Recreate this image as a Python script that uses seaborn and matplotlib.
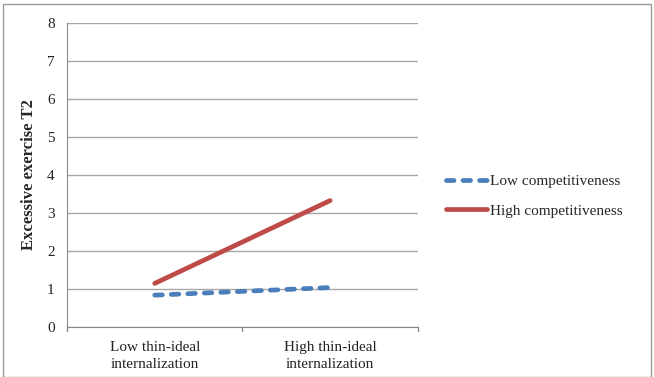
import pandas as pd
import matplotlib.pyplot as plt
import seaborn as sns
from matplotlib.lines import Line2D

# values
conditions = ['Low thin-ideal\ninternalization', 'High thin-ideal\ninternalization']
low_comp = [0.83, 1.03]
high_comp = [1.14, 3.32]
groups = ['Low competitiveness', 'High competitiveness']

df = pd.DataFrame({
    'x': [0, 1, 0, 1],
    'y': low_comp + high_comp,
    'group': [groups[0]] * 2 + [groups[1]] * 2,
})

sns.set_style('white')
plt.rcParams['font.family'] = ['Liberation Serif', 'DejaVu Serif']

fig = plt.figure(figsize=(6.54, 3.77), dpi=100)
ax = fig.add_axes([0.1025, 0.1334, 0.5365, 0.8064])

palette = {groups[0]: '#4a7ebb', groups[1]: '#be4b48'}
dash = (1.6, 1.9)
sns.lineplot(data=df, x='x', y='y', hue='group', style='group',
             palette=palette, dashes={groups[0]: dash, groups[1]: ''},
             linewidth=3.4, ax=ax, legend=False, solid_capstyle='round',
             dash_capstyle='round')

ax.set_xlim(-0.5, 1.5)
ax.set_ylim(0, 8)
ax.set_yticks(range(0, 9))
ax.set_xticks([0, 1])
ax.set_xticklabels(conditions, fontsize=11, color='#222222', linespacing=1.4)
ax.tick_params(axis='x', length=0, pad=10)
ax.tick_params(axis='y', labelsize=11, length=4, color='#888888', colors='#222222', pad=5)
for xt in [-0.5, 0.5, 1.5]:
    ax.plot([xt, xt], [0, -0.12], color='#888888', lw=1, clip_on=False)
ax.yaxis.grid(True, color='#a6a6a6', lw=1)
ax.set_axisbelow(True)
for s in ['top', 'right']:
    ax.spines[s].set_visible(False)
ax.spines['left'].set_color('#888888')
ax.spines['bottom'].set_color('#888888')
ax.set_xlabel('')
ax.set_ylabel('Excessive exercise T2', fontsize=12, fontweight='bold', labelpad=7)

# legend
handles = [
    Line2D([], [], color=palette[groups[0]], lw=3.4, dashes=dash, dash_capstyle='round'),
    Line2D([], [], color=palette[groups[1]], lw=3.4, solid_capstyle='round'),
]
fig.legend(handles, groups, loc='center left', bbox_to_anchor=(0.661, 0.48),
           frameon=False, fontsize=11, handlelength=2.7, handletextpad=0.2,
           labelspacing=1.05)

fig.patches.append(plt.Rectangle((0.004, 0.0), 0.992, 0.99, transform=fig.transFigure,
                                 fill=False, edgecolor='#999999', lw=1))

fig.savefig('out.png', dpi=100)
